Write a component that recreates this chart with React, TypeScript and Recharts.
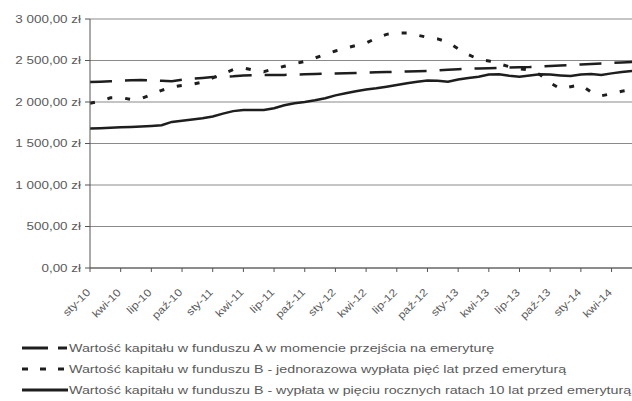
import React from 'react';
import { LineChart, Line, XAxis, YAxis, CartesianGrid } from 'recharts';

const monthNames = ['sty', 'lut', 'mar', 'kwi', 'maj', 'cze', 'lip', 'sie', 'wrz', 'paź', 'lis', 'gru'];
const years = ['10', '11', '12', '13', '14'];
const monthCount = 54;

const fundA = [2240, 2245, 2250, 2255, 2262, 2265, 2262, 2255, 2250, 2268, 2280, 2290, 2300, 2305, 2310, 2318, 2322, 2325, 2324, 2326, 2330, 2334, 2337, 2340, 2343, 2347, 2350, 2353, 2357, 2361, 2364, 2368, 2371, 2374, 2380, 2388, 2395, 2400, 2404, 2408, 2412, 2416, 2419, 2422, 2428, 2435, 2441, 2446, 2452, 2458, 2464, 2470, 2476, 2482];
const fundBOnce = [1985, 2010, 2050, 2055, 2030, 2040, 2090, 2140, 2180, 2200, 2215, 2240, 2290, 2340, 2390, 2410, 2385, 2365, 2400, 2430, 2460, 2490, 2530, 2575, 2615, 2650, 2680, 2710, 2770, 2815, 2830, 2832, 2805, 2780, 2760, 2720, 2640, 2570, 2515, 2495, 2460, 2425, 2400, 2385, 2330, 2230, 2160, 2185, 2205, 2120, 2075, 2100, 2130, 2150];
const fundBRates = [1680, 1685, 1690, 1695, 1700, 1705, 1712, 1720, 1760, 1775, 1790, 1805, 1825, 1860, 1890, 1905, 1905, 1905, 1925, 1960, 1985, 2000, 2020, 2045, 2080, 2105, 2130, 2150, 2165, 2185, 2205, 2225, 2245, 2260, 2255, 2245, 2270, 2290, 2305, 2330, 2335, 2315, 2305, 2320, 2335, 2330, 2320, 2312, 2330, 2337, 2325, 2345, 2362, 2373];

const yTicks = [0, 500, 1000, 1500, 2000, 2500, 3000];
const seriesNames = [
  'Wartość kapitału w funduszu A w momencie przejścia na emeryturę',
  'Wartość kapitału w funduszu B - jednorazowa wypłata pięć lat przed emeryturą',
  'Wartość kapitału w funduszu B - wypłata w pięciu rocznych ratach 10 lat przed emeryturą',
];

const categories = Array.from({ length: monthCount }, (_, i) => `${monthNames[i % 12]}-${years[Math.floor(i / 12)]}`);
const data = categories.map((m, i) => ({ month: m, a: fundA[i], b: fundBOnce[i], c: fundBRates[i] }));

const FONT = 'Liberation Sans, Arial, sans-serif';
const LINE = '#1e1e1e';
const TEXT = '#5a5a5a';
const STRETCH = 1.28;
const X_STRETCH = 1.18;
const LEGEND_STRETCH = 1.36;

const fmtPLN = (v: number) => {
  const s = Math.round(v).toString();
  const withSpace = s.length > 3 ? s.slice(0, s.length - 3) + ' ' + s.slice(s.length - 3) : s;
  return `${withSpace},00 zł`;
};

const XTick = (props: any) => {
  const { x, y, payload } = props;
  const ax = x + 1;
  const ay = y + 19;
  return (
    <text x={0} y={0} transform={`translate(${ax},${ay}) rotate(-45) scale(${X_STRETCH},1)`} textAnchor="end" fontSize={10.5} fill={TEXT} fontFamily={FONT}>
      {payload.value}
    </text>
  );
};

const YTick = (props: any) => {
  const { x, y, payload } = props;
  const ax = x - 2;
  return (
    <text x={0} y={0} dy="0.36em" transform={`translate(${ax},${y}) scale(${STRETCH},1)`} textAnchor="end" fontSize={10.5} fill={TEXT} fontFamily={FONT}>
      {fmtPLN(payload.value)}
    </text>
  );
};

const Legend3 = () => {
  const rows = [348, 369, 390];
  return (
    <svg width={632} height={70} style={{ position: 'absolute', left: 0, top: 331 }}>
      <g transform="translate(0,-331)">
        <line x1={22} x2={48} y1={rows[0]} y2={rows[0]} stroke={LINE} strokeWidth={3} />
        <line x1={58} x2={67} y1={rows[0]} y2={rows[0]} stroke={LINE} strokeWidth={3} />
        <line x1={22} x2={68} y1={rows[1]} y2={rows[1]} stroke={LINE} strokeWidth={3} strokeDasharray="6 12" />
        <line x1={22} x2={68} y1={rows[2]} y2={rows[2]} stroke={LINE} strokeWidth={3} />
        {seriesNames.map((n, i) => (
          <text key={n} x={0} y={0} dy="0.36em" transform={`translate(69,${rows[i]}) scale(${LEGEND_STRETCH},1)`} fontSize={10.5} fill={TEXT} fontFamily={FONT}>
            {n}
          </text>
        ))}
      </g>
    </svg>
  );
};

export default function App() {
  return (
    <div style={{ position: 'relative', width: 632, height: 401, background: '#fff' }}>
      <style>{`body{margin:0;}`}</style>
      <LineChart width={632} height={401} data={data} margin={{ top: 19, right: 0, bottom: 83, left: 0 }}>
        <CartesianGrid horizontal vertical={false} stroke="#8a8a8a" />
        <XAxis
          dataKey="month"
          interval={2}
          tick={<XTick />}
          tickSize={4}
          height={50}
          axisLine={{ stroke: '#555' }}
          tickLine={{ stroke: '#555' }}
        />
        <YAxis
          domain={[0, 3000]}
          ticks={yTicks}
          width={90}
          tickSize={5}
          tick={<YTick />}
          axisLine={{ stroke: '#555' }}
          tickLine={{ stroke: '#555' }}
        />
        <Line type="linear" dataKey="a" stroke={LINE} strokeWidth={2.5} strokeDasharray="22 13" dot={false} isAnimationActive={false} />
        <Line type="linear" dataKey="b" stroke={LINE} strokeWidth={3} strokeDasharray="5 13" dot={false} isAnimationActive={false} />
        <Line type="linear" dataKey="c" stroke={LINE} strokeWidth={2.5} dot={false} isAnimationActive={false} />
      </LineChart>
      <Legend3 />
    </div>
  );
}
